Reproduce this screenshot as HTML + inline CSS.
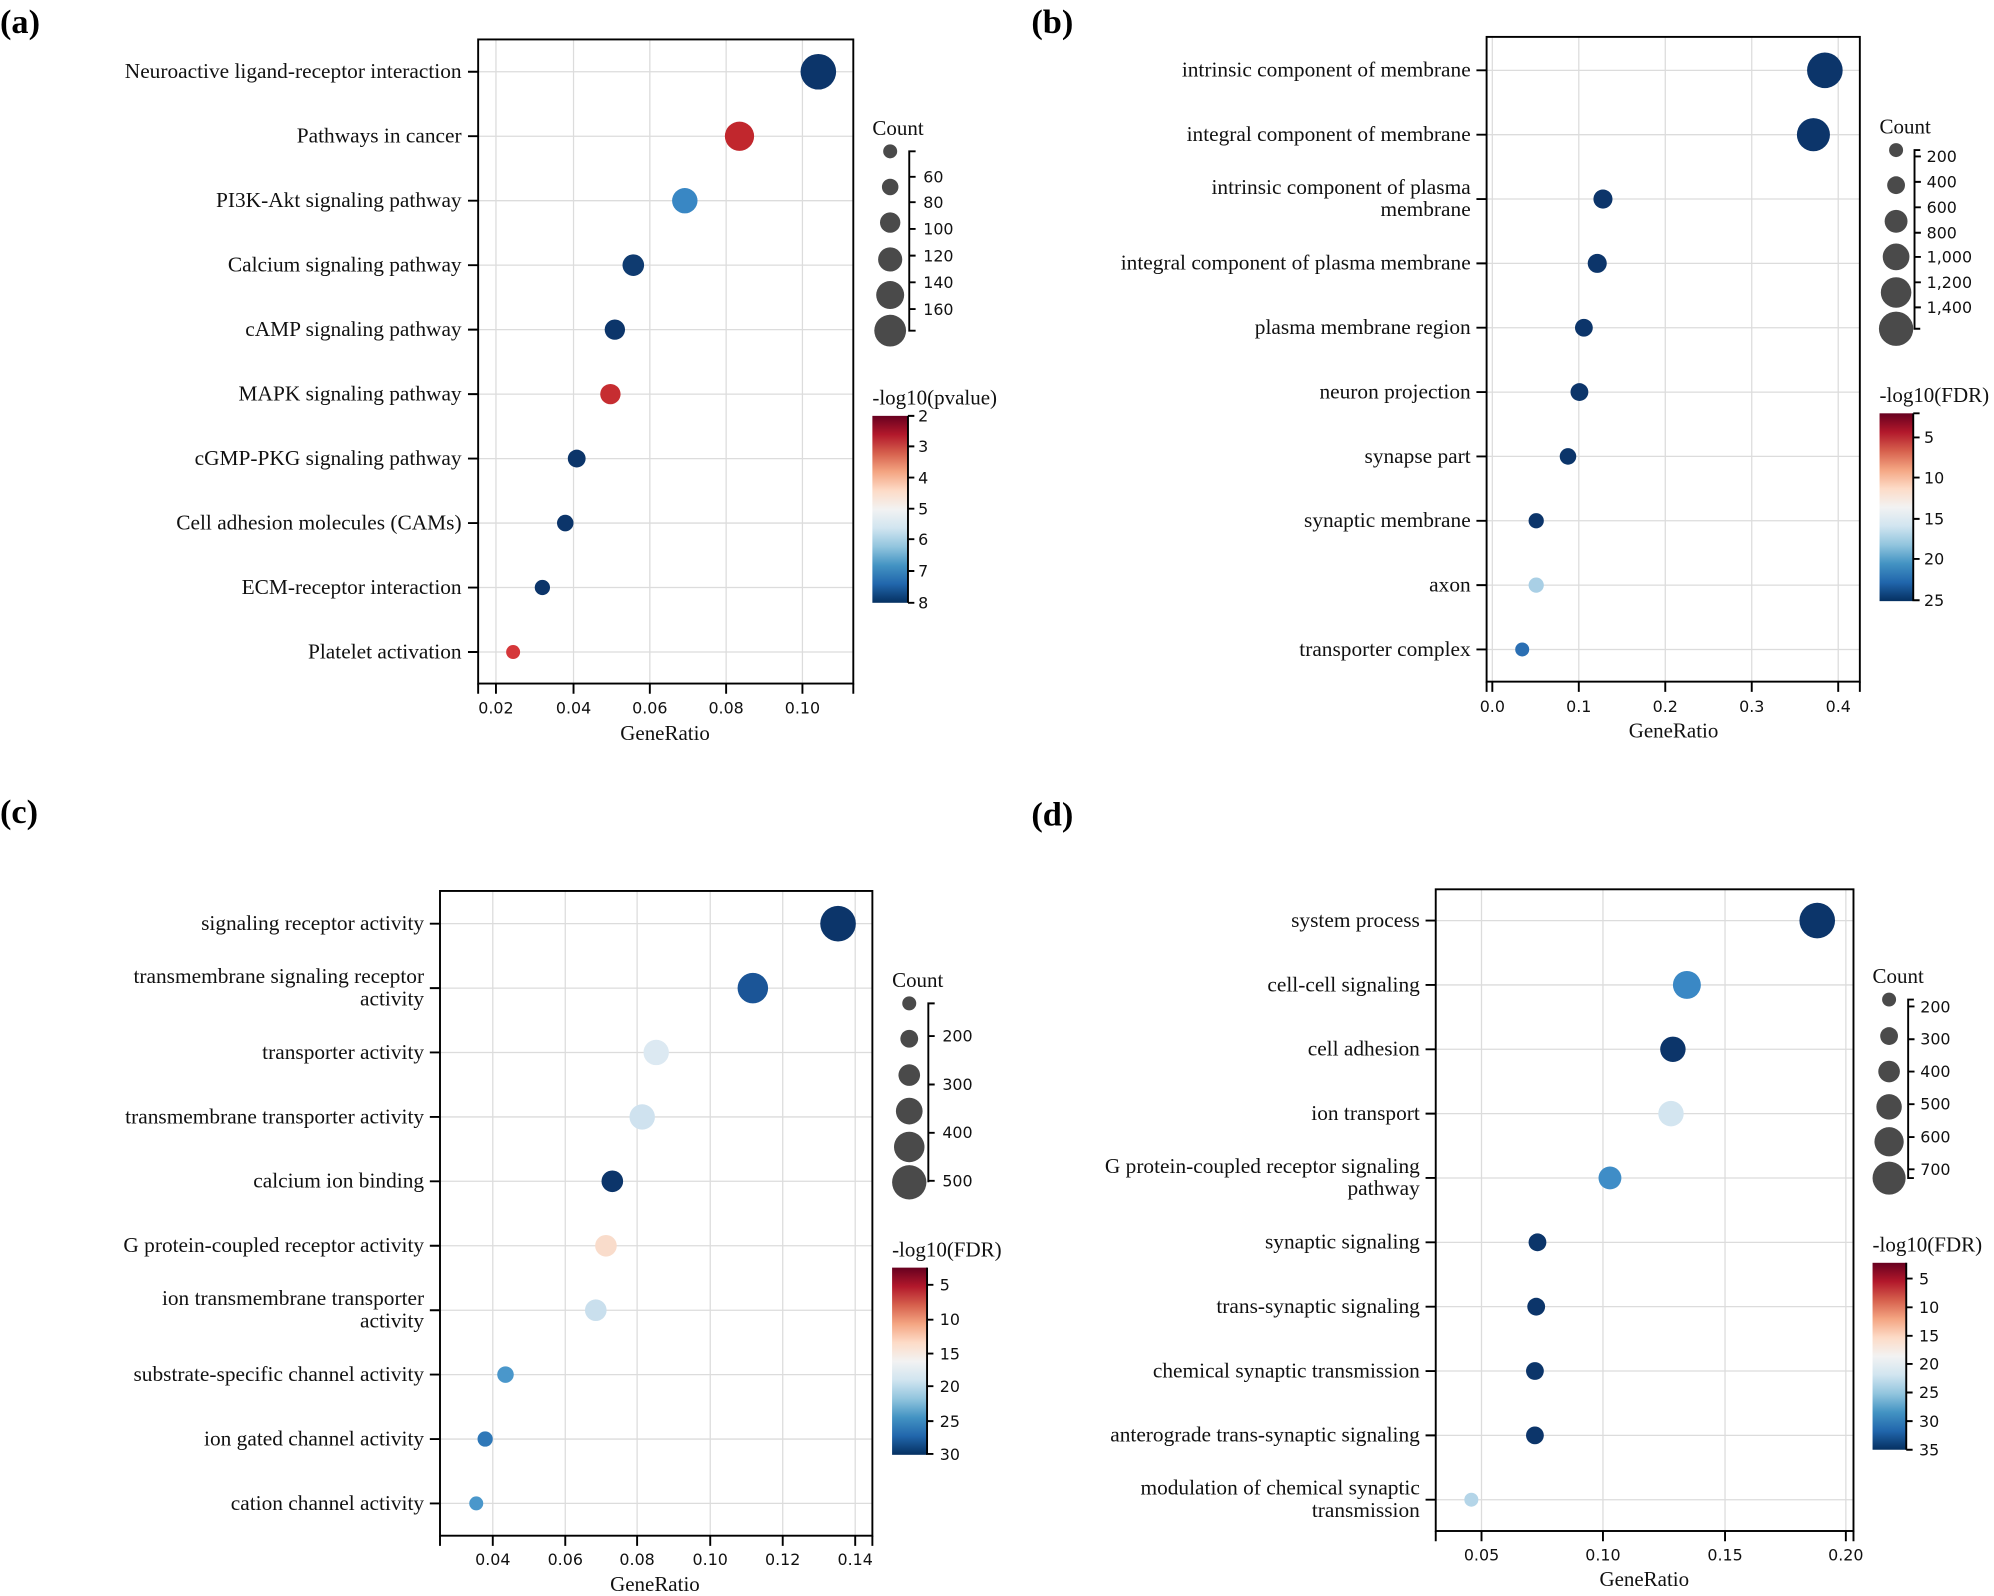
<!DOCTYPE html>
<html><head><meta charset="utf-8"><style>
html,body{margin:0;padding:0;background:#fff}
svg{display:block}
.l{font-family:"Liberation Serif",serif;font-size:16.8px;fill:#111;text-anchor:end}
.t{font-family:"DejaVu Sans","Liberation Sans",sans-serif;font-size:12.5px;fill:#111}
.tm{text-anchor:middle}
.g{stroke:#dcdcdc;stroke-width:1}
.ax{stroke:#000;stroke-width:1.5;fill:none}
.tt{font-family:"Liberation Serif",serif;font-size:16.5px;fill:#111}
.p{font-family:"Liberation Serif",serif;font-size:27px;font-weight:bold;fill:#000}
.c{fill:#4a4a4a}
</style></head><body>
<svg width="1994" height="1596" viewBox="0 0 1568 1255" xmlns="http://www.w3.org/2000/svg">
<defs>
<linearGradient id="rb" x1="0" y1="0" x2="0" y2="1">
<stop offset="0" stop-color="#67001f"/><stop offset="0.1" stop-color="#b2182b"/><stop offset="0.2" stop-color="#d6604d"/><stop offset="0.3" stop-color="#f4a582"/><stop offset="0.4" stop-color="#fddbc7"/><stop offset="0.5" stop-color="#f2f2f2"/><stop offset="0.6" stop-color="#d1e5f0"/><stop offset="0.7" stop-color="#92c5de"/><stop offset="0.8" stop-color="#4393c3"/><stop offset="0.9" stop-color="#2166ac"/><stop offset="1" stop-color="#053061"/>
</linearGradient>
</defs>
<rect width="1568" height="1255" fill="#fff"/>

<!-- PANEL A -->
<text class="p" x="0" y="26">(a)</text>
<g>
<g class="g">
<line x1="390" y1="31" x2="390" y2="537"/><line x1="451" y1="31" x2="451" y2="537"/><line x1="511" y1="31" x2="511" y2="537"/><line x1="571" y1="31" x2="571" y2="537"/><line x1="631" y1="31" x2="631" y2="537"/>
<line x1="376" y1="56.4" x2="671" y2="56.4"/><line x1="376" y1="107.1" x2="671" y2="107.1"/><line x1="376" y1="157.8" x2="671" y2="157.8"/><line x1="376" y1="208.5" x2="671" y2="208.5"/><line x1="376" y1="259.2" x2="671" y2="259.2"/><line x1="376" y1="309.9" x2="671" y2="309.9"/><line x1="376" y1="360.6" x2="671" y2="360.6"/><line x1="376" y1="411.3" x2="671" y2="411.3"/><line x1="376" y1="462" x2="671" y2="462"/><line x1="376" y1="512.7" x2="671" y2="512.7"/>
</g>
<rect class="ax" x="376" y="31" width="295" height="506.5"/>
<path class="ax" d="M368 56.4h8M368 107.1h8M368 157.8h8M368 208.5h8M368 259.2h8M368 309.9h8M368 360.6h8M368 411.3h8M368 462h8M368 512.7h8M376 537.5v8M390 537.5v8M451 537.5v8M511 537.5v8M571 537.5v8M631 537.5v8M671 537.5v8"/>
<text class="l" x="363" y="61.4">Neuroactive ligand-receptor interaction</text>
<text class="l" x="363" y="112.1">Pathways in cancer</text>
<text class="l" x="363" y="162.8">PI3K-Akt signaling pathway</text>
<text class="l" x="363" y="213.5">Calcium signaling pathway</text>
<text class="l" x="363" y="264.2">cAMP signaling pathway</text>
<text class="l" x="363" y="314.9">MAPK signaling pathway</text>
<text class="l" x="363" y="365.6">cGMP-PKG signaling pathway</text>
<text class="l" x="363" y="416.3">Cell adhesion molecules (CAMs)</text>
<text class="l" x="363" y="467">ECM-receptor interaction</text>
<text class="l" x="363" y="517.7">Platelet activation</text>
<circle cx="643.5" cy="56.4" r="14" fill="#0c356a"/>
<circle cx="581.5" cy="107.1" r="11.5" fill="#c1272d"/>
<circle cx="538.5" cy="157.8" r="10" fill="#3987c4"/>
<circle cx="498" cy="208.5" r="8.5" fill="#0f3b70"/>
<circle cx="483.5" cy="259.2" r="8" fill="#0c356a"/>
<circle cx="480" cy="309.9" r="8" fill="#c62d31"/>
<circle cx="453.5" cy="360.6" r="7" fill="#0c356a"/>
<circle cx="444.5" cy="411.3" r="6.5" fill="#0c356a"/>
<circle cx="426.5" cy="462" r="6" fill="#0c356a"/>
<circle cx="403.5" cy="512.7" r="5.5" fill="#d5373a"/>
<text class="t tm" x="390" y="561">0.02</text><text class="t tm" x="451" y="561">0.04</text><text class="t tm" x="511" y="561">0.06</text><text class="t tm" x="571" y="561">0.08</text><text class="t tm" x="631" y="561">0.10</text>
<text class="tt" x="523" y="582" text-anchor="middle">GeneRatio</text>
<text class="tt" x="686" y="106">Count</text>
<circle class="c" cx="700" cy="119" r="5.5"/><circle class="c" cx="700" cy="147" r="6.5"/><circle class="c" cx="700" cy="175" r="8"/><circle class="c" cx="700" cy="204" r="9.5"/><circle class="c" cx="700" cy="232" r="11"/><circle class="c" cx="700" cy="260" r="12.5"/>
<path class="ax" d="M720 119h-5v141h5M715 139h5M715 159h5M715 180h5M715 201h5M715 222h5M715 243h5"/>
<text class="t" x="726" y="143.5">60</text><text class="t" x="726" y="163.5">80</text><text class="t" x="726" y="184.5">100</text><text class="t" x="726" y="205.5">120</text><text class="t" x="726" y="226.5">140</text><text class="t" x="726" y="247.5">160</text>
<text class="tt" x="686" y="318">-log10(pvalue)</text>
<rect x="686" y="327" width="28" height="147" fill="url(#rb)"/>
<path class="ax" d="M714 327v147M714 327h5M714 351h5M714 375.5h5M714 400h5M714 424h5M714 449h5M714 474h5"/>
<text class="t" x="722" y="331.5">2</text><text class="t" x="722" y="355.5">3</text><text class="t" x="722" y="380">4</text><text class="t" x="722" y="404.5">5</text><text class="t" x="722" y="428.5">6</text><text class="t" x="722" y="453.5">7</text><text class="t" x="722" y="478.5">8</text>
</g>

<!-- PANEL B -->
<text class="p" x="811" y="26">(b)</text>
<g>
<g class="g">
<line x1="1173.5" y1="29" x2="1173.5" y2="536"/><line x1="1241.5" y1="29" x2="1241.5" y2="536"/><line x1="1309.5" y1="29" x2="1309.5" y2="536"/><line x1="1377.5" y1="29" x2="1377.5" y2="536"/><line x1="1445.5" y1="29" x2="1445.5" y2="536"/>
<line x1="1169" y1="55.3" x2="1462" y2="55.3"/><line x1="1169" y1="105.9" x2="1462" y2="105.9"/><line x1="1169" y1="156.5" x2="1462" y2="156.5"/><line x1="1169" y1="207.1" x2="1462" y2="207.1"/><line x1="1169" y1="257.7" x2="1462" y2="257.7"/><line x1="1169" y1="308.3" x2="1462" y2="308.3"/><line x1="1169" y1="358.9" x2="1462" y2="358.9"/><line x1="1169" y1="409.5" x2="1462" y2="409.5"/><line x1="1169" y1="460.1" x2="1462" y2="460.1"/><line x1="1169" y1="510.7" x2="1462" y2="510.7"/>
</g>
<rect class="ax" x="1169" y="29" width="293.5" height="507"/>
<path class="ax" d="M1161 55.3h8M1161 105.9h8M1161 156.5h8M1161 207.1h8M1161 257.7h8M1161 308.3h8M1161 358.9h8M1161 409.5h8M1161 460.1h8M1161 510.7h8M1169 536v8M1173.5 536v8M1241.5 536v8M1309.5 536v8M1377.5 536v8M1445.5 536v8M1462.5 536v8"/>
<text class="l" x="1156.5" y="60.3">intrinsic component of membrane</text>
<text class="l" x="1156.5" y="110.9">integral component of membrane</text>
<text class="l" x="1156.5" y="152.5">intrinsic component of plasma</text>
<text class="l" x="1156.5" y="170">membrane</text>
<text class="l" x="1156.5" y="212.1">integral component of plasma membrane</text>
<text class="l" x="1156.5" y="262.7">plasma membrane region</text>
<text class="l" x="1156.5" y="313.3">neuron projection</text>
<text class="l" x="1156.5" y="363.9">synapse part</text>
<text class="l" x="1156.5" y="414.5">synaptic membrane</text>
<text class="l" x="1156.5" y="465.1">axon</text>
<text class="l" x="1156.5" y="515.7">transporter complex</text>
<circle cx="1435" cy="55.3" r="14" fill="#0c356a"/>
<circle cx="1426" cy="105.9" r="13" fill="#0c356a"/>
<circle cx="1260.5" cy="156.5" r="7.5" fill="#0c356a"/>
<circle cx="1256" cy="207.1" r="7.5" fill="#0c356a"/>
<circle cx="1245.5" cy="257.7" r="7" fill="#0c356a"/>
<circle cx="1242" cy="308.3" r="7" fill="#0c356a"/>
<circle cx="1233" cy="358.9" r="6.5" fill="#0c356a"/>
<circle cx="1208" cy="409.5" r="6" fill="#0c356a"/>
<circle cx="1208" cy="460.1" r="6" fill="#a9cfe5"/>
<circle cx="1197" cy="510.7" r="5.5" fill="#2b6fb3"/>
<text class="t tm" x="1173.5" y="560">0.0</text><text class="t tm" x="1241.5" y="560">0.1</text><text class="t tm" x="1309.5" y="560">0.2</text><text class="t tm" x="1377.5" y="560">0.3</text><text class="t tm" x="1445.5" y="560">0.4</text>
<text class="tt" x="1316" y="580" text-anchor="middle">GeneRatio</text>
<text class="tt" x="1478" y="105">Count</text>
<circle class="c" cx="1491" cy="118" r="5.5"/><circle class="c" cx="1491" cy="145.6" r="7"/><circle class="c" cx="1491" cy="174" r="9"/><circle class="c" cx="1491" cy="202" r="10.5"/><circle class="c" cx="1491" cy="230" r="12"/><circle class="c" cx="1491" cy="258.5" r="13.5"/>
<path class="ax" d="M1510 118h-4.5v140.5h4.5M1505.5 123h5M1505.5 143h5M1505.5 163h5M1505.5 183h5M1505.5 202h5M1505.5 222h5M1505.5 241.7h5"/>
<text class="t" x="1515" y="127.5">200</text><text class="t" x="1515" y="147.5">400</text><text class="t" x="1515" y="167.5">600</text><text class="t" x="1515" y="187.5">800</text><text class="t" x="1515" y="206.5">1,000</text><text class="t" x="1515" y="226.5">1,200</text><text class="t" x="1515" y="246">1,400</text>
<text class="tt" x="1478" y="316">-log10(FDR)</text>
<rect x="1478" y="325" width="26.5" height="147.7" fill="url(#rb)"/>
<path class="ax" d="M1504.5 325v147.7M1504.5 325h5M1504.5 344h5M1504.5 375.5h5M1504.5 408h5M1504.5 439.5h5M1504.5 472h5"/>
<text class="t" x="1513" y="348.5">5</text><text class="t" x="1513" y="380">10</text><text class="t" x="1513" y="412.5">15</text><text class="t" x="1513" y="444">20</text><text class="t" x="1513" y="476.5">25</text>
</g>

<!-- PANEL C -->
<text class="p" x="0" y="647">(c)</text>
<g>
<g class="g">
<line x1="387.5" y1="701" x2="387.5" y2="1207"/><line x1="444.5" y1="701" x2="444.5" y2="1207"/><line x1="501" y1="701" x2="501" y2="1207"/><line x1="558.5" y1="701" x2="558.5" y2="1207"/><line x1="615.5" y1="701" x2="615.5" y2="1207"/><line x1="672.5" y1="701" x2="672.5" y2="1207"/>
<line x1="346" y1="726.3" x2="686" y2="726.3"/><line x1="346" y1="777" x2="686" y2="777"/><line x1="346" y1="827.6" x2="686" y2="827.6"/><line x1="346" y1="878.3" x2="686" y2="878.3"/><line x1="346" y1="928.9" x2="686" y2="928.9"/><line x1="346" y1="979.6" x2="686" y2="979.6"/><line x1="346" y1="1030.3" x2="686" y2="1030.3"/><line x1="346" y1="1080.9" x2="686" y2="1080.9"/><line x1="346" y1="1131.6" x2="686" y2="1131.6"/><line x1="346" y1="1182.2" x2="686" y2="1182.2"/>
</g>
<rect class="ax" x="346" y="700.6" width="340" height="507"/>
<path class="ax" d="M338 726.3h8M338 777h8M338 827.6h8M338 878.3h8M338 928.9h8M338 979.6h8M338 1030.3h8M338 1080.9h8M338 1131.6h8M338 1182.2h8M346 1207.6v8M387.5 1207.6v8M444.5 1207.6v8M501 1207.6v8M558.5 1207.6v8M615.5 1207.6v8M672.5 1207.6v8M686 1207.6v8"/>
<text class="l" x="333.5" y="731.3">signaling receptor activity</text>
<text class="l" x="333.5" y="773">transmembrane signaling receptor</text>
<text class="l" x="333.5" y="790.5">activity</text>
<text class="l" x="333.5" y="832.6">transporter activity</text>
<text class="l" x="333.5" y="883.3">transmembrane transporter activity</text>
<text class="l" x="333.5" y="933.9">calcium ion binding</text>
<text class="l" x="333.5" y="984.6">G protein-coupled receptor activity</text>
<text class="l" x="333.5" y="1026.3">ion transmembrane transporter</text>
<text class="l" x="333.5" y="1043.8">activity</text>
<text class="l" x="333.5" y="1085.9">substrate-specific channel activity</text>
<text class="l" x="333.5" y="1136.6">ion gated channel activity</text>
<text class="l" x="333.5" y="1187.2">cation channel activity</text>
<circle cx="659" cy="726.3" r="14" fill="#0c356a"/>
<circle cx="592" cy="777" r="12" fill="#1b5597"/>
<circle cx="516" cy="827.6" r="10" fill="#dce9f2"/>
<circle cx="505" cy="878.3" r="10" fill="#cfe2ef"/>
<circle cx="481.5" cy="928.9" r="8.5" fill="#0c356a"/>
<circle cx="476.5" cy="979.6" r="8.5" fill="#f9dccb"/>
<circle cx="468.5" cy="1030.3" r="8.5" fill="#c9dfed"/>
<circle cx="397.5" cy="1080.9" r="6.5" fill="#4a97cb"/>
<circle cx="381.5" cy="1131.6" r="6" fill="#2f78b8"/>
<circle cx="374.5" cy="1182.2" r="5.5" fill="#4a97cb"/>
<text class="t tm" x="387.5" y="1230.5">0.04</text><text class="t tm" x="444.5" y="1230.5">0.06</text><text class="t tm" x="501" y="1230.5">0.08</text><text class="t tm" x="558.5" y="1230.5">0.10</text><text class="t tm" x="615.5" y="1230.5">0.12</text><text class="t tm" x="672.5" y="1230.5">0.14</text>
<text class="tt" x="515" y="1251" text-anchor="middle">GeneRatio</text>
<text class="tt" x="701.5" y="776">Count</text>
<circle class="c" cx="715" cy="789" r="5.5"/><circle class="c" cx="715" cy="816.8" r="7"/><circle class="c" cx="715" cy="845.4" r="8.5"/><circle class="c" cx="715" cy="873.7" r="10.5"/><circle class="c" cx="715" cy="901.9" r="12"/><circle class="c" cx="715" cy="929.7" r="13.5"/>
<path class="ax" d="M735 789h-5v140.7M730 814.7h5M730 852.8h5M730 890.8h5M730 928.5h5"/>
<text class="t" x="741" y="819">200</text><text class="t" x="741" y="857">300</text><text class="t" x="741" y="895">400</text><text class="t" x="741" y="933">500</text>
<text class="tt" x="701.5" y="988">-log10(FDR)</text>
<rect x="701.5" y="996.8" width="27.5" height="147.2" fill="url(#rb)"/>
<path class="ax" d="M729 996.8v147.2M729 1010.3h5M729 1037.7h5M729 1064.4h5M729 1090h5M729 1117.5h5M729 1143.3h5"/>
<text class="t" x="739" y="1014.8">5</text><text class="t" x="739" y="1042">10</text><text class="t" x="739" y="1069">15</text><text class="t" x="739" y="1094.5">20</text><text class="t" x="739" y="1122">25</text><text class="t" x="739" y="1148">30</text>
</g>

<!-- PANEL D -->
<text class="p" x="811" y="649">(d)</text>
<g>
<g class="g">
<line x1="1165" y1="699" x2="1165" y2="1204"/><line x1="1260.5" y1="699" x2="1260.5" y2="1204"/><line x1="1356.5" y1="699" x2="1356.5" y2="1204"/><line x1="1451.5" y1="699" x2="1451.5" y2="1204"/>
<line x1="1129" y1="723.9" x2="1457" y2="723.9"/><line x1="1129" y1="774.5" x2="1457" y2="774.5"/><line x1="1129" y1="825.1" x2="1457" y2="825.1"/><line x1="1129" y1="875.7" x2="1457" y2="875.7"/><line x1="1129" y1="926.3" x2="1457" y2="926.3"/><line x1="1129" y1="976.9" x2="1457" y2="976.9"/><line x1="1129" y1="1027.5" x2="1457" y2="1027.5"/><line x1="1129" y1="1078.1" x2="1457" y2="1078.1"/><line x1="1129" y1="1128.7" x2="1457" y2="1128.7"/><line x1="1129" y1="1179.3" x2="1457" y2="1179.3"/>
</g>
<rect class="ax" x="1129" y="699.3" width="328.5" height="504.6"/>
<path class="ax" d="M1121 723.9h8M1121 774.5h8M1121 825.1h8M1121 875.7h8M1121 926.3h8M1121 976.9h8M1121 1027.5h8M1121 1078.1h8M1121 1128.7h8M1121 1179.3h8M1129 1204v8M1165 1204v8M1260.5 1204v8M1356.5 1204v8M1451.5 1204v8M1457.5 1204v8"/>
<text class="l" x="1116.5" y="728.9">system process</text>
<text class="l" x="1116.5" y="779.5">cell-cell signaling</text>
<text class="l" x="1116.5" y="830.1">cell adhesion</text>
<text class="l" x="1116.5" y="880.7">ion transport</text>
<text class="l" x="1116.5" y="922.3">G protein-coupled receptor signaling</text>
<text class="l" x="1116.5" y="939.8">pathway</text>
<text class="l" x="1116.5" y="981.9">synaptic signaling</text>
<text class="l" x="1116.5" y="1032.5">trans-synaptic signaling</text>
<text class="l" x="1116.5" y="1083.1">chemical synaptic transmission</text>
<text class="l" x="1116.5" y="1133.7">anterograde trans-synaptic signaling</text>
<text class="l" x="1116.5" y="1175.3">modulation of chemical synaptic</text>
<text class="l" x="1116.5" y="1192.8">transmission</text>
<circle cx="1429" cy="723.9" r="14" fill="#0c356a"/>
<circle cx="1326.5" cy="774.5" r="11" fill="#3a88c5"/>
<circle cx="1315.5" cy="825.1" r="10" fill="#0c356a"/>
<circle cx="1314" cy="875.7" r="10" fill="#d3e5f0"/>
<circle cx="1266" cy="926.3" r="9" fill="#3f8dc7"/>
<circle cx="1209" cy="976.9" r="7" fill="#0c356a"/>
<circle cx="1208" cy="1027.5" r="7" fill="#0c356a"/>
<circle cx="1207" cy="1078.1" r="7" fill="#0c356a"/>
<circle cx="1207" cy="1128.7" r="7" fill="#0c356a"/>
<circle cx="1157" cy="1179.3" r="5.5" fill="#b4d5e8"/>
<text class="t tm" x="1165" y="1227">0.05</text><text class="t tm" x="1260.5" y="1227">0.10</text><text class="t tm" x="1356.5" y="1227">0.15</text><text class="t tm" x="1451.5" y="1227">0.20</text>
<text class="tt" x="1293" y="1247" text-anchor="middle">GeneRatio</text>
<text class="tt" x="1472.5" y="773">Count</text>
<circle class="c" cx="1485.5" cy="786" r="5.5"/><circle class="c" cx="1485.5" cy="814.7" r="7"/><circle class="c" cx="1485.5" cy="842.6" r="8.5"/><circle class="c" cx="1485.5" cy="870.4" r="10"/><circle class="c" cx="1485.5" cy="897.8" r="11.5"/><circle class="c" cx="1485.5" cy="926.4" r="13"/>
<path class="ax" d="M1505 786h-4.5v140.4h4.5M1500.5 791.4h5M1500.5 817.2h5M1500.5 842.6h5M1500.5 868.3h5M1500.5 894.1h5M1500.5 919.5h5"/>
<text class="t" x="1510" y="796">200</text><text class="t" x="1510" y="821.5">300</text><text class="t" x="1510" y="847">400</text><text class="t" x="1510" y="872.5">500</text><text class="t" x="1510" y="898.5">600</text><text class="t" x="1510" y="924">700</text>
<text class="tt" x="1472.5" y="984">-log10(FDR)</text>
<rect x="1472.5" y="993" width="26.5" height="147" fill="url(#rb)"/>
<path class="ax" d="M1499 993v147M1499 1005.4h5M1499 1028h5M1499 1050.4h5M1499 1072.5h5M1499 1095h5M1499 1117.5h5M1499 1140h5"/>
<text class="t" x="1509" y="1010">5</text><text class="t" x="1509" y="1032.5">10</text><text class="t" x="1509" y="1055">15</text><text class="t" x="1509" y="1077">20</text><text class="t" x="1509" y="1099.5">25</text><text class="t" x="1509" y="1122">30</text><text class="t" x="1509" y="1144.5">35</text>
</g>
</svg>
</body></html>
